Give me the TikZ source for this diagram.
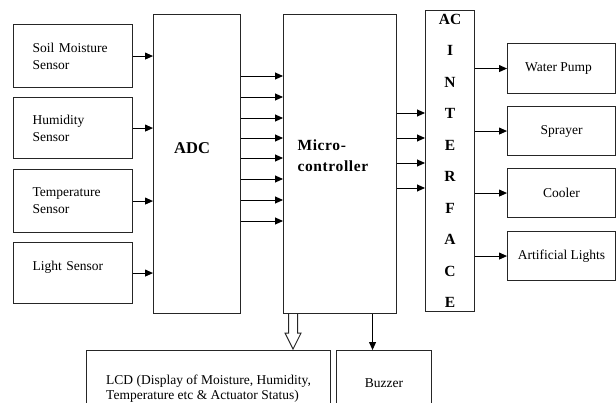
\documentclass[tikz,border=0pt]{standalone}
\usepackage{fontspec}
\setmainfont{Liberation Serif}
\usetikzlibrary{arrows.meta,calc}
\newcommand\txtfont{\fontsize{13.5pt}{17pt}\selectfont}
\begin{document}
\begin{tikzpicture}[x=1pt,y=-1pt,
  box/.style={draw=black!85, line width=1.1pt, anchor=north west, inner sep=0pt},
  sensor/.style={box, text width=81pt, inner xsep=19pt, align=left, font=\txtfont},
  outbox/.style={box, minimum width=108pt, minimum height=49pt, font=\txtfont},
  arr/.style={draw=black, line width=0.9pt, -{Triangle[length=8pt,width=7pt]}}]
\useasboundingbox (0,0) rectangle (616,402);
% sensors
\node[sensor, minimum height=63pt] (s1) at (13,24) {Soil Moisture\\Sensor};
\node[sensor, minimum height=61pt] (s2) at (13,97) {Humidity\\Sensor};
\node[sensor, minimum height=63pt] (s3) at (13,169) {Temperature\\Sensor};
\node[sensor, text height=27.5pt, text depth=33.5pt] (s4) at (13,242) {Light Sensor};
% ADC
\node[box, minimum width=87pt, text height=139pt, text depth=160pt,
      font=\fontsize{16.5pt}{20pt}\selectfont\bfseries] (adc) at (153,14) {ADC\hspace*{10pt}};
% micro-controller
\node[box, text width=85pt, inner xsep=14pt, align=left, text height=136pt, text depth=163pt,
      font=\fontsize{15.5pt}{21pt}\selectfont\bfseries\addfontfeatures{LetterSpace=4}] (mc) at (283,14) {Micro-\\controller};
% AC interface
\node[box, minimum width=49pt, minimum height=301pt, align=center,
      font=\fontsize{15.5pt}{31.5pt}\selectfont\bfseries] (ac) at (425,10) {AC\\I\\N\\T\\E\\R\\F\\A\\C\\E};
% outputs
\node[outbox, minimum height=50pt] (o1) at (507,43) {Water Pump\hspace*{6pt}};
\node[outbox] (o2) at (507,106) {Sprayer};
\node[outbox] (o3) at (507,168) {Cooler};
\node[outbox] (o4) at (507,231) {Artificial Lights};
% bottom
\node[box, minimum width=244pt, minimum height=76pt, align=left,
      font=\fontsize{13.5pt}{14.5pt}\selectfont] (lcd) at (86,350) {LCD (Display of Moisture, Humidity,\\Temperature etc \& Actuator Status)};
\node[box, minimum width=95pt, minimum height=66pt, font=\txtfont] (bz) at (336,350) {Buzzer};
% connectors
\foreach \s in {s1,s2,s3,s4} \draw[arr] (\s.east) -- (\s.east -| adc.west);
\foreach \y in {76,97,118,138,158,179,200,221} \draw[arr] (adc.east |- 0,\y) -- (mc.west |- 0,\y);
\foreach \y in {113,138,163,188} \draw[arr] (mc.east |- 0,\y) -- (ac.west |- 0,\y);
\foreach \o in {o1,o2,o3,o4} \draw[arr] (\o.west -| ac.east) -- (\o.west);
\coordinate (bzin) at ($(bz.north)+(-11.5,0)$);
\draw[arr] (bzin |- mc.south) -- (bzin);
\coordinate (lcdin) at ($(mc.south)+(-47,0)$);
\draw[line width=0.9pt, black!85] ($(lcdin)+(-4.5,0)$) -- ++(0,19) -- ++(-3.5,0) -- ($(lcdin)+(0,35)$) -- ++(8,-16) -- ++(-3.5,0) -- ($(lcdin)+(4.5,0)$);
\end{tikzpicture}
\end{document}
